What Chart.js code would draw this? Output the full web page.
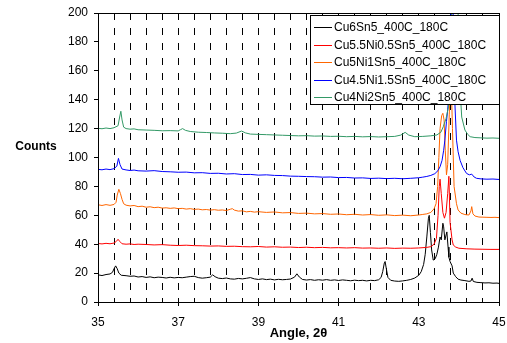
<!DOCTYPE html>
<html>
<head>
<meta charset="utf-8">
<script src="https://cdn.jsdelivr.net/npm/chart.js@4/dist/chart.umd.min.js"></script>
<style>
  html, body { margin: 0; padding: 0; background: #fff; }
  #wrap { width: 507px; height: 343px; }
</style>
</head>
<body>
<div id="wrap"><canvas id="chartXrd" width="507" height="343"></canvas></div>
<script>
const SERIES_NAMES = [
  "Cu6Sn5_400C_180C",
  "Cu5.5Ni0.5Sn5_400C_180C",
  "Cu5Ni1Sn5_400C_180C",
  "Cu4.5Ni1.5Sn5_400C_180C",
  "Cu4Ni2Sn5_400C_180C",
];
const SERIES_COLORS = ["#000000", "#ff0000", "#ff6600", "#0000ff", "#339966"];

const X_TICKS = [35, 37, 39, 41, 43, 45];
const Y_TICKS = [0, 20, 40, 60, 80, 100, 120, 140, 160, 180, 200];

// Cu6Sn5
const cu6X = [35.0, 35.1, 35.2, 35.3, 35.36, 35.4, 35.44, 35.48, 35.52, 35.58, 35.7, 35.8, 35.9, 36.0, 36.1, 36.2, 36.3, 36.4, 36.5, 36.6, 36.7, 36.8, 36.9, 37.0, 37.1, 37.2, 37.3, 37.4, 37.5, 37.6, 37.7, 37.8, 37.86, 37.92, 38.0, 38.1, 38.2, 38.3, 38.4, 38.5, 38.6, 38.7, 38.8, 38.9, 39.0, 39.1, 39.2, 39.3, 39.4, 39.5, 39.6, 39.7, 39.8, 39.9, 39.96, 40.02, 40.1, 40.2, 40.3, 40.4, 40.5, 40.6, 40.7, 40.8, 40.9, 41.0, 41.1, 41.2, 41.3, 41.4, 41.5, 41.6, 41.7, 41.8, 41.9, 42.0, 42.06, 42.1, 42.14, 42.16, 42.19, 42.23, 42.3, 42.4, 42.5, 42.6, 42.7, 42.8, 42.9, 43.0, 43.06, 43.12, 43.16, 43.2, 43.24, 43.26, 43.29, 43.32, 43.36, 43.41, 43.45, 43.49, 43.53, 43.56, 43.6, 43.62, 43.65, 43.7, 43.73, 43.75, 43.78, 43.83, 43.86, 43.92, 43.98, 44.05, 44.15, 44.25, 44.3, 44.33, 44.36, 44.45, 44.55, 44.65, 44.75, 44.85, 44.95, 45.0];
const cu6Y = [18.8, 18.3, 19.0, 19.4, 20.5, 23, 25, 23, 20, 18.5, 18.2, 17.8, 18.0, 17.3, 17.6, 17.0, 17.4, 16.8, 17.2, 17.0, 16.6, 17.1, 16.7, 17.0, 16.8, 17.2, 17.6, 17.8, 16.9, 16.5, 16.8, 17.2, 18.8, 17.5, 16.5, 16.2, 16.6, 16.0, 15.8, 16.3, 16.0, 16.4, 16.9, 16.0, 15.6, 16.0, 15.5, 15.8, 15.3, 15.7, 15.4, 15.6, 15.9, 17.2, 19.5, 17.3, 15.6, 15.2, 15.5, 15.0, 15.4, 15.1, 15.5, 15.0, 15.3, 14.9, 15.3, 15.0, 14.7, 15.1, 14.8, 15.0, 14.6, 15.0, 14.8, 15.4, 17, 21, 27, 28, 23, 17, 15.0, 14.5, 14.3, 14.6, 15.0, 15.6, 16.6, 18.5, 21, 26, 33, 45, 58, 60, 48, 36, 29, 30, 33, 38, 45, 43, 54.5, 52, 43, 48.5, 38, 31, 28, 25, 20, 17.5, 15.8, 15.2, 14.8, 14.3, 14.5, 16.5, 14.2, 13.6, 13.4, 13.2, 13.3, 13.0, 13.1, 12.9];

// Cu5.5Ni0.5Sn5
const cu55X = [35.0, 35.1, 35.2, 35.3, 35.4, 35.46, 35.5, 35.54, 35.6, 35.7, 35.8, 35.9, 36.0, 36.2, 36.4, 36.6, 36.8, 37.0, 37.2, 37.4, 37.6, 37.8, 38.0, 38.2, 38.4, 38.6, 38.8, 39.0, 39.2, 39.4, 39.6, 39.8, 40.0, 40.2, 40.4, 40.6, 40.8, 41.0, 41.2, 41.4, 41.6, 41.8, 42.0, 42.2, 42.4, 42.6, 42.8, 43.0, 43.2, 43.3, 43.38, 43.44, 43.48, 43.51, 43.53, 43.56, 43.6, 43.64, 43.68, 43.72, 43.75, 43.78, 43.83, 43.86, 43.92, 44.0, 44.2, 44.4, 44.6, 44.8, 45.0];
const cu55Y = [40.5, 40.2, 40.6, 40.3, 40.8, 42, 43.4, 42, 40.3, 40.0, 40.2, 39.8, 40.0, 39.8, 39.5, 39.7, 39.3, 39.1, 39.3, 39.0, 38.9, 38.7, 38.8, 38.5, 38.6, 38.3, 38.2, 38.4, 38.0, 38.2, 37.9, 38.0, 37.7, 37.9, 37.6, 37.8, 37.5, 37.6, 37.4, 37.6, 37.3, 37.4, 37.2, 37.4, 37.1, 37.3, 37.2, 37.4, 37.8, 38.3, 40, 44, 60, 80, 85, 75, 62, 58, 62, 75, 87, 55, 43, 39.4, 38, 37.2, 36.8, 36.6, 36.5, 36.4, 36.4];

// Cu5Ni1Sn5
const cu5X = [35.0, 35.1, 35.2, 35.3, 35.4, 35.45, 35.48, 35.52, 35.56, 35.6, 35.64, 35.7, 35.8, 35.9, 36.0, 36.1, 36.2, 36.3, 36.4, 36.5, 36.6, 36.7, 36.8, 36.9, 37.0, 37.1, 37.2, 37.3, 37.4, 37.5, 37.6, 37.7, 37.8, 37.9, 38.0, 38.1, 38.2, 38.3, 38.35, 38.4, 38.5, 38.6, 38.7, 38.8, 38.9, 39.0, 39.2, 39.4, 39.6, 39.8, 40.0, 40.2, 40.4, 40.6, 40.8, 41.0, 41.2, 41.4, 41.6, 41.8, 42.0, 42.2, 42.4, 42.6, 42.8, 43.0, 43.1, 43.2, 43.3, 43.38, 43.43, 43.47, 43.5, 43.53, 43.57, 43.6, 43.63, 43.66, 43.69, 43.72, 43.76, 43.8, 43.84, 43.88, 43.94, 43.98, 44.05, 44.15, 44.25, 44.3, 44.32, 44.35, 44.4, 44.5, 44.6, 44.7, 44.8, 44.9, 45.0];
const cu5Y = [67.3, 66.8, 67.4, 66.9, 67.5, 69, 74, 78, 75, 71, 68, 67, 66.5, 66.8, 66.0, 66.3, 65.6, 65.9, 65.3, 65.6, 65.0, 65.2, 64.8, 65.1, 64.6, 64.8, 64.3, 64.6, 64.1, 64.3, 63.8, 64.0, 63.6, 63.9, 63.5, 63.7, 63.3, 64.2, 64.6, 63.6, 62.9, 63.1, 62.4, 62.7, 62.2, 62.5, 62.0, 62.3, 61.7, 61.9, 61.3, 61.5, 61.0, 61.2, 60.7, 60.9, 60.4, 60.7, 60.2, 60.5, 60.0, 60.3, 59.8, 60.1, 59.7, 60.2, 60.6, 61, 62, 64.5, 68, 80, 100, 120, 129, 130.6, 126, 105, 88, 95, 130, 160, 120, 80, 68, 63.7, 61.5, 60.5, 60.2, 63, 66, 61, 59.5, 58.8, 58.7, 58.6, 58.5, 58.6, 58.4];

// Cu4.5Ni1.5Sn5
const cu45X = [35.0, 35.1, 35.2, 35.3, 35.4, 35.47, 35.51, 35.55, 35.6, 35.7, 35.8, 35.9, 36.0, 36.2, 36.4, 36.6, 36.8, 37.0, 37.2, 37.4, 37.6, 37.8, 38.0, 38.2, 38.4, 38.6, 38.8, 39.0, 39.2, 39.4, 39.6, 39.8, 40.0, 40.2, 40.4, 40.6, 40.8, 41.0, 41.2, 41.4, 41.6, 41.8, 42.0, 42.2, 42.4, 42.6, 42.8, 43.0, 43.1, 43.2, 43.3, 43.4, 43.48, 43.53, 43.58, 43.62, 43.65, 43.69, 43.72, 43.74, 43.77, 43.8, 43.84, 43.87, 43.9, 43.94, 43.98, 44.03, 44.1, 44.19, 44.26, 44.32, 44.38, 44.44, 44.55, 44.7, 44.85, 45.0];
const cu45Y = [91.8, 91.5, 92.0, 91.6, 92.3, 94, 99.4, 95, 92, 91.4, 91.0, 91.3, 90.8, 90.6, 90.9, 90.3, 90.1, 89.8, 89.9, 89.4, 89.5, 89.0, 89.1, 88.6, 88.8, 88.2, 88.3, 87.8, 88.0, 87.6, 87.5, 87.1, 87.0, 86.8, 86.7, 86.4, 86.5, 86.1, 86.2, 85.8, 85.9, 85.5, 85.7, 85.4, 85.6, 85.3, 85.6, 86.0, 86.4, 86.9, 87.6, 88.8, 91, 93.6, 98, 105, 112, 125, 133, 140, 170, 210, 220, 180, 137.5, 112, 104, 98, 93, 89, 88, 88.5, 86.5, 85.6, 85.2, 85.0, 85.1, 84.8];

// Cu4Ni2Sn5
const cu4X = [35.0, 35.1, 35.2, 35.3, 35.4, 35.5, 35.54, 35.57, 35.6, 35.64, 35.7, 35.8, 35.9, 36.0, 36.2, 36.4, 36.6, 36.8, 37.0, 37.06, 37.11, 37.18, 37.3, 37.5, 37.7, 37.9, 38.1, 38.3, 38.45, 38.58, 38.68, 38.8, 39.0, 39.2, 39.4, 39.6, 39.8, 40.0, 40.2, 40.4, 40.6, 40.8, 41.0, 41.2, 41.4, 41.6, 41.8, 42.0, 42.2, 42.4, 42.55, 42.66, 42.75, 42.9, 43.1, 43.3, 43.45, 43.55, 43.61, 43.68, 43.74, 43.78, 43.82, 43.87, 43.93, 43.98, 44.03, 44.07, 44.15, 44.22, 44.28, 44.4, 44.55, 44.7, 44.85, 45.0];
const cu4Y = [120.2, 119.9, 120.4, 120.0, 120.6, 122, 128, 132, 126, 121, 120, 119.6, 119.8, 119.2, 119.0, 118.8, 118.5, 118.6, 118.4, 119.3, 120, 118.8, 118.0, 117.5, 117.3, 117.0, 116.8, 116.5, 116.9, 118.3, 117, 116.2, 116.0, 115.8, 115.6, 115.4, 115.2, 115.0, 115.1, 114.8, 114.9, 114.6, 114.7, 114.4, 114.6, 114.3, 114.5, 114.2, 114.4, 114.6, 115.5, 117.4, 115.5, 114.4, 114.6, 115.0, 115.6, 117.5, 121.3, 127, 135, 160, 200, 240, 240, 200, 146.7, 128, 119, 116, 114.4, 113.8, 113.6, 113.4, 113.5, 113.3];

const SERIES_X = [cu6X, cu55X, cu5X, cu45X, cu4X];
const SERIES_Y = [cu6Y, cu55Y, cu5Y, cu45Y, cu4Y];

const FONT_FAMILY = "Arial, 'Liberation Sans', sans-serif";

function aPuntos(xs, ys) {
  return xs.map((x, i) => ({ x: x, y: ys[i] }));
}

function esMayor(v) {
  return X_TICKS.some((t) => Math.abs(t - v) < 1e-6);
}

// marco, rotulo del eje y, leyenda
const extras = {
  id: "extras",
  afterDatasetsDraw(chart) {
    const { ctx, chartArea: a } = chart;
    ctx.save();
    ctx.strokeStyle = "#000";
    ctx.lineWidth = 1;
    ctx.setLineDash([]);
    ctx.strokeRect(Math.round(a.left) + 0.5, Math.round(a.top) + 0.5,
      Math.round(a.right - a.left), Math.round(a.bottom - a.top));
    ctx.restore();
  },
  afterDraw(chart) {
    const { ctx } = chart;
    ctx.save();
    ctx.fillStyle = "#000";
    ctx.font = "bold 12px " + FONT_FAMILY;
    ctx.textAlign = "center";
    ctx.textBaseline = "middle";
    ctx.fillText("Counts", 36, 147);

    // leyenda
    const lx = 310, ly = 15, lw = 189, lh = 89;
    ctx.fillStyle = "#fff";
    ctx.fillRect(lx, ly, lw, lh);
    ctx.strokeStyle = "#000";
    ctx.lineWidth = 1;
    ctx.strokeRect(lx + 0.5, ly + 0.5, lw, lh);
    ctx.font = "12px " + FONT_FAMILY;
    ctx.textAlign = "left";
    SERIES_NAMES.forEach((name, i) => {
      const y = ly + 12 + i * 17.5;
      ctx.strokeStyle = SERIES_COLORS[i];
      ctx.beginPath();
      ctx.moveTo(lx + 4, Math.round(y) + 0.5);
      ctx.lineTo(lx + 22, Math.round(y) + 0.5);
      ctx.stroke();
      ctx.fillStyle = "#000";
      ctx.fillText(name, lx + 24, y + 1);
    });
    ctx.restore();
  },
};

const config = {
  type: "scatter",
  data: {
    datasets: SERIES_NAMES.map((name, i) => ({
      label: name,
      data: aPuntos(SERIES_X[i], SERIES_Y[i]),
      showLine: true,
      borderColor: SERIES_COLORS[i],
      backgroundColor: SERIES_COLORS[i],
      borderWidth: 1,
      pointRadius: 0,
      tension: 0,
      order: SERIES_NAMES.length - i,
    })),
  },
  options: {
    responsive: false,
    animation: false,
    events: [],
    layout: { padding: { left: 0, right: 8, top: 13, bottom: 0 } },
    plugins: { legend: { display: false }, tooltip: { enabled: false } },
    scales: {
      x: {
        type: "linear",
        min: 35,
        max: 45,
        afterBuildTicks: (s) => {
          const t = [];
          for (let k = 0; k <= 25; k++) t.push({ value: Math.round((35 + k * 0.4) * 10) / 10 });
          s.ticks = t;
        },
        afterFit: (s) => {
          s.height = 41;
          s.paddingLeft = 0;
          s.paddingRight = 0;
        },
        ticks: {
          autoSkip: false,
          maxRotation: 0,
          padding: 9,
          color: "#000",
          font: { family: FONT_FAMILY, size: 12 },
          callback: (v) => (esMayor(v) ? String(Math.round(v)) : ""),
        },
        grid: {
          color: "#000",
          lineWidth: 1,
          tickLength: 4,
          tickColor: (c) => (c.tick && esMayor(c.tick.value) ? "#000" : "rgba(0,0,0,0)"),
        },
        border: { display: true, color: "#000", dash: [7, 8] },
        title: {
          display: true,
          text: "Angle, 2θ",
          color: "#000",
          font: { family: FONT_FAMILY, size: 13, weight: "bold" },
          padding: { top: 0, bottom: 2 },
        },
      },
      y: {
        min: 0,
        max: 200,
        afterBuildTicks: (s) => { s.ticks = Y_TICKS.map((v) => ({ value: v })); },
        afterFit: (s) => {
          s.width = 98;
          s.paddingTop = 0;
          s.paddingBottom = 0;
        },
        ticks: {
          padding: 6,
          color: "#000",
          font: { family: FONT_FAMILY, size: 12 },
        },
        grid: { drawOnChartArea: false, tickLength: 4, tickColor: "#000" },
        border: { display: true, color: "#000" },
      },
    },
  },
  plugins: [extras],
};

new Chart(document.getElementById("chartXrd"), config);
</script>
</body>
</html>
